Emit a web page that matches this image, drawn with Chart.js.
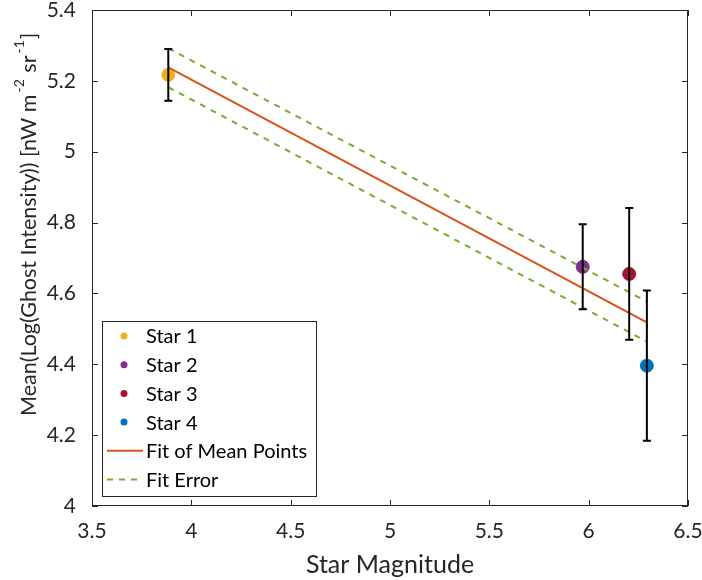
<!DOCTYPE html>
<html>
<head>
<meta charset="utf-8">
<script src="https://cdn.jsdelivr.net/npm/chart.js@4"></script>
<style>
 html,body{margin:0;padding:0;background:#fff}
 #wrap{width:702px;height:580px}
</style>
</head>
<body>
<div id="wrap"><canvas id="c" width="702" height="580"></canvas></div>
<script>
// values
const stars=["Star 1","Star 2","Star 3","Star 4"]
const starColors=["#EDB120","#7E2F8E","#A2142F","#0072BD"]
const magnitude=[3.884,5.970,6.204,6.293]
const meanLog=[5.217,4.675,4.655,4.396]
const errBar=[0.073,0.120,0.186,0.212]
const fitX=[3.884,6.293]
const fitY=[5.238,4.518]
const fitUpper=[5.292,4.577]
const fitLower=[5.182,4.464]
const xTicks=[3.5,4,4.5,5,5.5,6,6.5]
const yTicks=[4,4.2,4.4,4.6,4.8,5,5.2,5.4]
// y title pieces: [text, superscript?]
const yTitle=[["Mean(Log(Ghost Intensity)) [nW m",false],["-2",true],[" sr",false],["-1",true],["]",false]]

const FONT="Lato, 'Open Sans', sans-serif"
const fmt=v=>String(Number(v.toFixed(1)))

// star points
const datasets=stars.map((s,i)=>({
 label:s,
 data:[{x:magnitude[i],y:meanLog[i]}],
 backgroundColor:starColors[i],
 borderColor:starColors[i],
 pointRadius:6.5,
 pointHoverRadius:6.5,
 order:2
}))

datasets.push({
 label:"Fit of Mean Points",
 data:fitX.map((x,i)=>({x:x,y:fitY[i]})),
 showLine:true,borderColor:"#D95319",borderWidth:2,pointRadius:0,order:1
})
datasets.push({
 label:"Fit Error",
 data:fitX.map((x,i)=>({x:x,y:fitUpper[i]})),
 showLine:true,borderColor:"#77AC30",borderWidth:2,borderDash:[6,6],pointRadius:0,order:1
})
datasets.push({
 label:"Fit Error (lower)",
 data:fitX.map((x,i)=>({x:x,y:fitLower[i]})),
 showLine:true,borderColor:"#77AC30",borderWidth:2,borderDash:[6,6],pointRadius:0,order:1
})

// error bars on top of the dots
const errorBars={
 id:"errorBars",
 afterDatasetsDraw(chart){
  const {ctx,scales:{x,y}}=chart
  ctx.save()
  ctx.strokeStyle="#000"
  ctx.lineWidth=2
  magnitude.forEach((m,i)=>{
   const px=x.getPixelForValue(m)
   const t=y.getPixelForValue(meanLog[i]+errBar[i])
   const b=y.getPixelForValue(meanLog[i]-errBar[i])
   ctx.beginPath()
   ctx.moveTo(px,t);ctx.lineTo(px,b)
   ctx.moveTo(px-4,t);ctx.lineTo(px+4,t)
   ctx.moveTo(px-4,b);ctx.lineTo(px+4,b)
   ctx.stroke()
  })
  ctx.restore()
 }
}

// matlab style box with inward ticks, plus y title with superscripts
const axesBox={
 id:"axesBox",
 afterDraw(chart){
  const {ctx,chartArea:a,scales:{x,y}}=chart
  ctx.save()
  ctx.strokeStyle="#262626"
  ctx.lineWidth=1
  ctx.strokeRect(a.left+0.5,a.top+0.5,a.width-1,a.height-1)
  ctx.beginPath()
  x.ticks.forEach(t=>{
   const px=Math.round(x.getPixelForValue(t.value))+0.5
   ctx.moveTo(px,a.bottom);ctx.lineTo(px,a.bottom-6)
   ctx.moveTo(px,a.top);ctx.lineTo(px,a.top+6)
  })
  y.ticks.forEach(t=>{
   const py=Math.round(y.getPixelForValue(t.value))+0.5
   ctx.moveTo(a.left,py);ctx.lineTo(a.left+6,py)
   ctx.moveTo(a.right,py);ctx.lineTo(a.right-6,py)
  })
  ctx.stroke()

  ctx.translate(29,416)
  ctx.rotate(-Math.PI/2)
  ctx.fillStyle="#262626"
  ctx.textBaseline="middle"
  let pos=0
  yTitle.forEach(([txt,sup])=>{
   ctx.font=(sup?"14px ":"21.5px ")+FONT
   ctx.fillText(txt,pos+(sup?2:0),sup?-10:0)
   pos+=ctx.measureText(txt).width+(sup?3:0)
  })
  ctx.restore()
 }
}

// legend inside the axes, lower left
const boxLegend={
 id:"boxLegend",
 afterDraw(chart){
  const {ctx,chartArea:a}=chart
  const lx=a.left+10,ly=a.bottom-185,lw=214,lh=175
  ctx.save()
  ctx.fillStyle="#fff"
  ctx.fillRect(lx,ly,lw,lh)
  ctx.strokeStyle="#262626"
  ctx.lineWidth=1
  ctx.strokeRect(lx+0.5,ly+0.5,lw,lh)
  ctx.font="20px "+FONT
  ctx.textBaseline="middle"
  const items=chart.data.datasets.slice(0,6)
  items.forEach((d,i)=>{
   const cy=ly+15+i*28.7
   if(d.showLine){
    ctx.strokeStyle=d.borderColor
    ctx.lineWidth=2
    ctx.setLineDash(d.borderDash||[])
    ctx.beginPath();ctx.moveTo(lx+5,cy);ctx.lineTo(lx+41,cy);ctx.stroke()
    ctx.setLineDash([])
   }else{
    ctx.fillStyle=d.backgroundColor
    ctx.beginPath();ctx.arc(lx+22,cy,3.5,0,Math.PI*2);ctx.fill()
   }
   ctx.fillStyle="#000"
   ctx.fillText(d.label,lx+44,cy+1)
  })
  ctx.restore()
 }
}

new Chart(document.getElementById("c"),{
 type:"scatter",
 data:{datasets:datasets},
 plugins:[errorBars,axesBox,boxLegend],
 options:{
  responsive:false,
  animation:false,
  events:[],
  layout:{padding:{left:0,right:14,top:10,bottom:0}},
  plugins:{legend:{display:false},tooltip:{enabled:false}},
  scales:{
   x:{
    type:"linear",min:3.5,max:6.5,
    afterBuildTicks:s=>{s.ticks=xTicks.map(v=>({value:v}))},
    afterFit:s=>{s.height=74;s.paddingLeft=0;s.paddingRight=0},
    grid:{display:false},border:{display:false},
    ticks:{color:"#262626",font:{family:FONT,size:21},padding:5,maxRotation:0,callback:fmt},
    title:{display:true,text:"Star Magnitude",color:"#262626",font:{family:FONT,size:25},padding:{top:2,bottom:0}}
   },
   y:{
    type:"linear",min:4,max:5.4,
    afterBuildTicks:s=>{s.ticks=yTicks.map(v=>({value:v}))},
    afterFit:s=>{s.width=92;s.paddingTop=0;s.paddingBottom=0},
    grid:{display:false},border:{display:false},
    ticks:{color:"#262626",font:{family:FONT,size:21},padding:8,callback:fmt},
    title:{display:false}
   }
  }
 }
})
</script>
</body>
</html>
